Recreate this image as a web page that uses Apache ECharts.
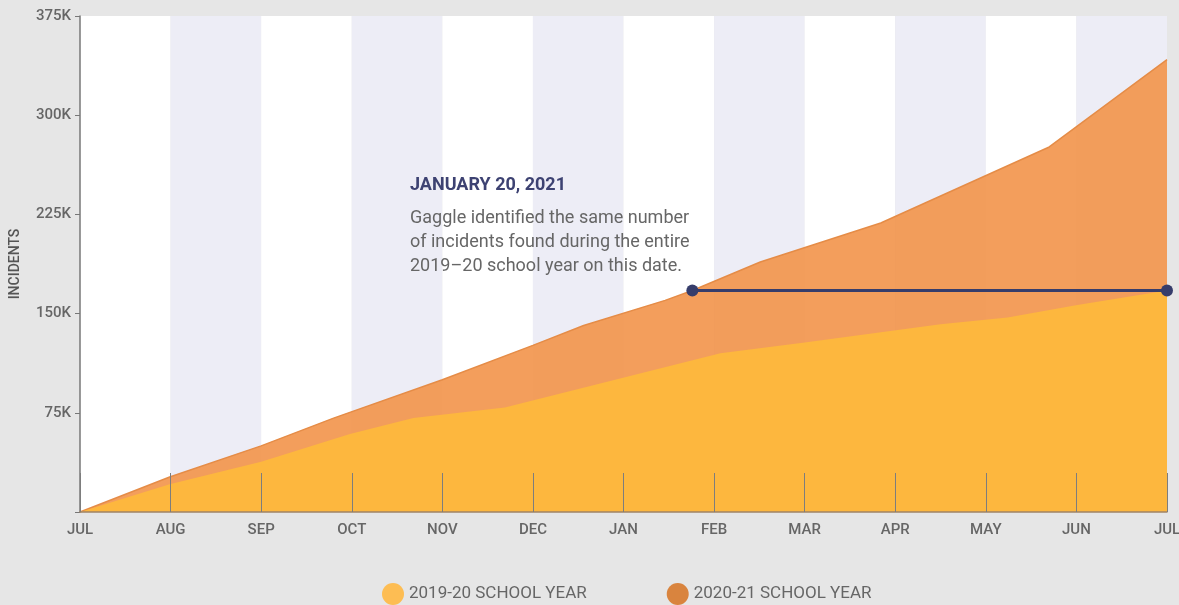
<!DOCTYPE html>
<html>
<head>
<meta charset="utf-8">
<script src="https://cdn.jsdelivr.net/npm/echarts@6/dist/echarts.min.js"></script>
<style>
html,body{margin:0;padding:0;background:#e6e6e6;overflow:hidden;}
#chart{width:1179px;height:605px;}
</style>
</head>
<body>
<div id="chart"></div>
<script>
// Month tick labels (x = months since July, school-year start)
const months = ['JUL','AUG','SEP','OCT','NOV','DEC','JAN','FEB','MAR','APR','MAY','JUN','JUL'];

// 2019-20 school year cumulative incidents (thousands)
const sy1920Months = [0, 0.99, 2.0, 2.98, 3.68, 4.69, 7.07, 7.98, 9.5, 10.24, 11.01, 12];
const sy1920Values = [0, 21, 38, 59, 71, 79, 120, 128, 142, 147, 156.5, 167.5];

// 2020-21 school year cumulative incidents (thousands)
const sy2021Months = [0, 0.99, 2.0, 2.8, 4.0, 5.0, 5.56, 6.46, 6.76, 7.51, 8.84, 10.7, 12];
const sy2021Values = [0, 26.5, 50, 71, 100, 126, 141, 160, 167.5, 189, 218.5, 276, 342];

// Annotation: January 20, 2021 reached 2019-20 total
const annoMonths = [6.76, 12];
const annoValues = [167.5, 167.5];

const seriesNames = ['2019-20 SCHOOL YEAR', '2020-21 SCHOOL YEAR'];

const zip = (xs, ys) => xs.map((x, i) => [x, ys[i]]);

const chart = echarts.init(document.getElementById('chart'));
const FONT = 'Roboto';
chart.setOption({
  backgroundColor: '#e6e6e6',
  animation: false,
  grid: { left: 80, right: 12, top: 16, bottom: 93, containLabel: false, outerBoundsMode: 'none' },
  legend: {
    left: 377, top: 578,
    icon: 'circle', itemWidth: 22, itemHeight: 22, itemGap: 80,
    textStyle: { fontFamily: FONT, fontSize: 17, color: '#666' },
    data: [
      { name: seriesNames[0], itemStyle: { color: '#fdbd53' } },
      { name: seriesNames[1], itemStyle: { color: '#d9843e' } }
    ]
  },
  xAxis: [
    {
      type: 'value', min: 0, max: 12, interval: 1,
      axisLine: { show: false }, axisTick: { show: false }, splitLine: { show: false },
      splitArea: { show: true, areaStyle: { color: ['#ffffff', '#ededf6'] } },
      axisLabel: {
        formatter: v => months[v] || '',
        fontFamily: FONT, fontSize: 15, fontWeight: 500, color: '#666', margin: 11
      }
    },
    {
      type: 'value', min: 0, max: 12, interval: 1, z: 5,
      position: 'bottom',
      axisLine: { show: true, lineStyle: { color: '#a08466', width: 1.5 } },
      axisTick: { show: true, inside: true, length: 39, lineStyle: { color: '#7d7d7d', width: 1 } },
      axisLabel: { show: false }, splitLine: { show: false }, splitArea: { show: false }
    }
  ],
  yAxis: {
    type: 'value', min: 0, max: 375, interval: 75,
    name: 'INCIDENTS', nameLocation: 'middle', nameRotate: 90, nameGap: 58,
    nameTextStyle: { fontFamily: FONT, fontSize: 14, fontWeight: 500, color: '#555' },
    axisLine: { show: true, lineStyle: { color: '#777', width: 1.5 } },
    axisTick: { show: true, length: 5, lineStyle: { color: '#777' } },
    splitLine: { show: false },
    axisLabel: {
      formatter: v => v === 0 ? '' : v + 'K',
      fontFamily: FONT, fontSize: 15, fontWeight: 500, color: '#666', margin: 9
    }
  },
  series: [
    {
      name: seriesNames[1], type: 'line', z: 2,
      data: zip(sy2021Months, sy2021Values),
      symbol: 'none',
      lineStyle: { color: '#e58c47', width: 1.5 },
      itemStyle: { color: '#d9843e' },
      areaStyle: { color: '#f2934a', opacity: 0.9 }
    },
    {
      name: seriesNames[0], type: 'line', z: 3,
      data: zip(sy1920Months, sy1920Values),
      symbol: 'none',
      lineStyle: { width: 0 },
      itemStyle: { color: '#fdbd53' },
      areaStyle: { color: '#fdb73e', opacity: 1 }
    },
    {
      name: 'annotation', type: 'line', z: 10,
      data: zip(annoMonths, annoValues),
      symbol: 'circle', symbolSize: 12,
      lineStyle: { color: '#363d6b', width: 3 },
      itemStyle: { color: '#363d6b' },
      silent: true
    }
  ],
  graphic: [
    {
      type: 'text', left: 410, top: 176, z: 20,
      style: { text: 'JANUARY 20, 2021', font: 'bold 18px Roboto', fill: '#3d4272' }
    },
    {
      type: 'text', left: 410, top: 206, z: 20,
      style: {
        text: 'Gaggle identified the same number\nof incidents found during the entire\n2019\u201320 school year on this date.',
        font: '18px Roboto', fill: '#666', lineHeight: 24
      }
    }
  ]
});
</script>
</body>
</html>
